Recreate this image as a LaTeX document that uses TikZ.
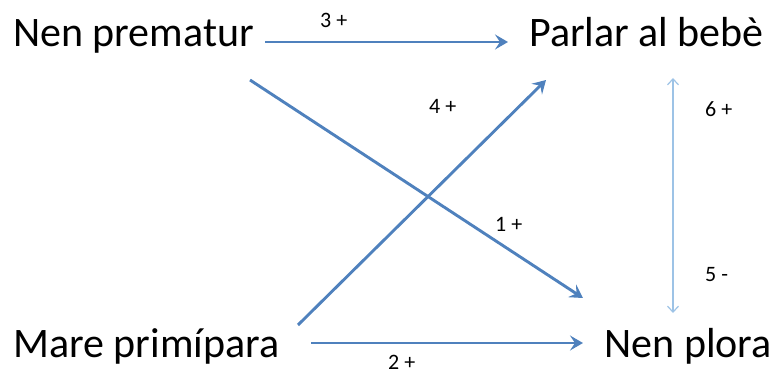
\documentclass[tikz,border=0pt]{standalone}
\usepackage{fontspec}
\setmainfont{Carlito}
\usetikzlibrary{arrows.meta,calc}
\definecolor{arrblue}{HTML}{4F81BD}
\definecolor{lightblue}{HTML}{9DC3E6}
\begin{document}
\begin{tikzpicture}[x=1pt,y=-1pt,
  bigtext/.style={inner sep=0pt,font=\fontsize{42}{50}\selectfont},
  lbl/.style={inner sep=0pt,anchor=base west,font=\fontsize{22}{26}\selectfont},
  arr/.style={draw=arrblue,line width=2.9pt,-{Stealth[length=13pt,width=15pt,inset=5pt]}},
  thinarr/.style={draw=lightblue,line width=1.2pt,{Straight Barb[length=6pt,width=11pt]}-{Straight Barb[length=6pt,width=11pt]}}]
\useasboundingbox (0,0) rectangle (774,374);
\node[bigtext,anchor=base west] (np) at (13,47) {Nen prematur};
\node[bigtext,anchor=base west] (pb) at (529,47) {Parlar al bebè};
\node[bigtext,anchor=base west] (mp) at (13,357) {Mare primípara};
\node[bigtext,anchor=base east] (nl) at (772,357) {Nen plora};
% connectors
\draw[arr] ($(np.base west)+(252,-5)$) -- ($(pb.base west)+(-21,-5)$);
\draw[arr] ($(np.base west)+(237,33)$) -- ($(nl.base east)+(-189,-59)$);
\draw[arr] ($(mp.base west)+(285,-32)$) -- ($(pb.base west)+(17,33)$);
\draw[arr] ($(mp.base west)+(298,-14)$) -- ($(nl.base east)+(-189,-14)$);
\draw[thinarr] ($(pb.base west)+(144,31)$) -- ($(nl.base east)+(-99,-44)$);
% labels
\node[lbl] (l3) at (320,28) {3 +};
\node[lbl] (l4) at (429,114) {4 +};
\node[lbl] (l1) at (495,232) {1 +};
\node[lbl] (l2) at (388,369) {2 +};
\node[lbl] (l6) at (705,117) {6 +};
\node[lbl] (l5) at (705,282) {5 -};
\end{tikzpicture}
\end{document}
